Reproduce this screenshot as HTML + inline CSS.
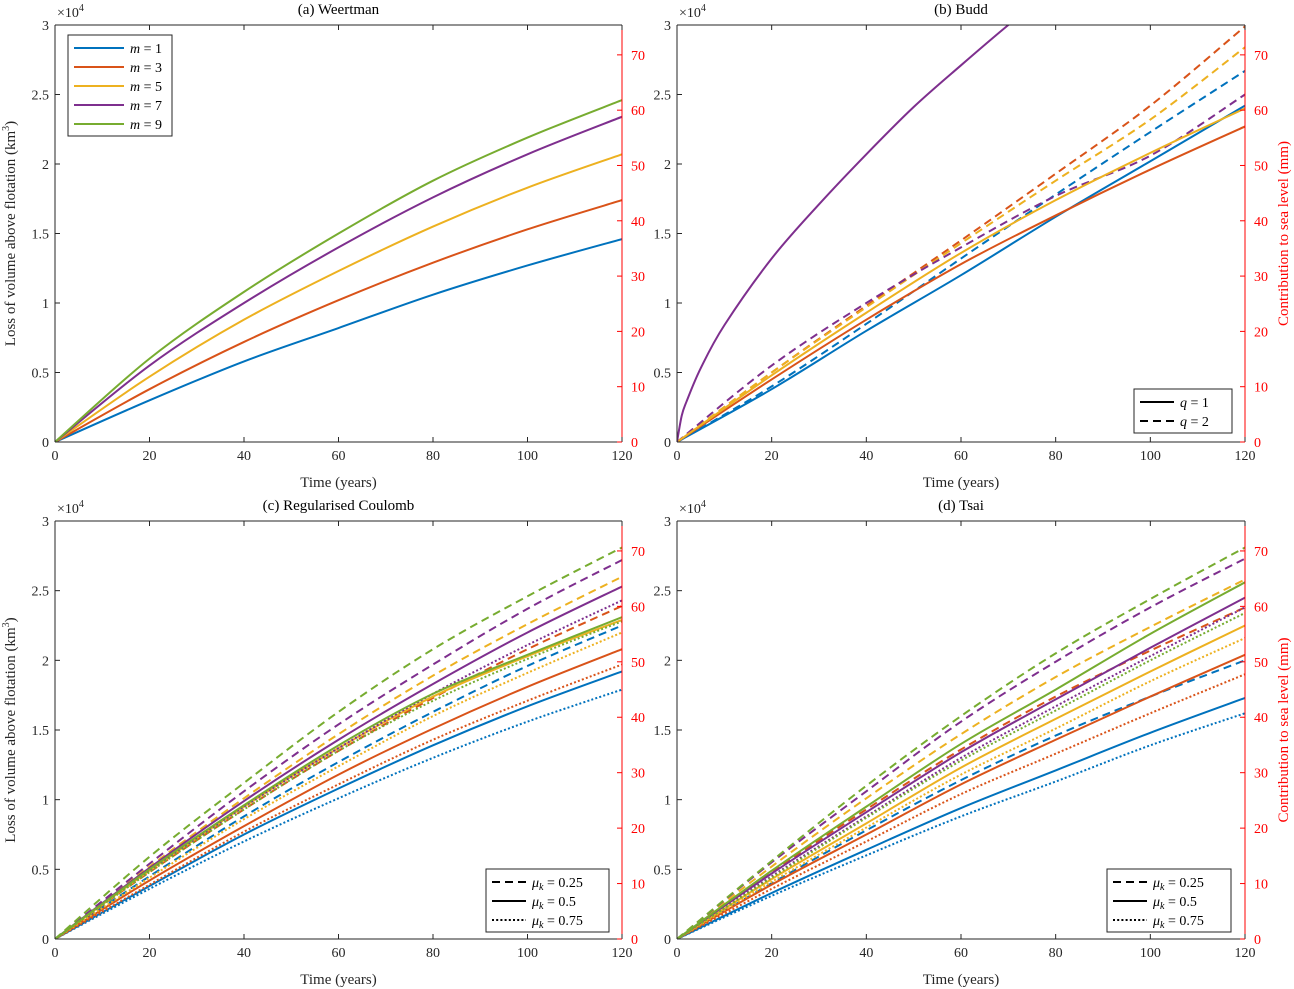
<!DOCTYPE html>
<html><head><meta charset="utf-8"><style>
html,body{margin:0;padding:0;background:#fff}
svg{display:block;font-family:"Liberation Serif",serif}
</style></head><body>
<svg id="fig" width="1294" height="989" viewBox="0 0 1294 989" xmlns="http://www.w3.org/2000/svg"></svg>
<script>
const C=['#0072BD','#D95319','#EDB120','#7E2F8E','#77AC30'];
const times=[0,20,40,60,80,100,120];
// Panel (a) Weertman, values in 1e4 km^3
const aM1=[0,.30,.58,.82,1.06,1.27,1.46];
const aM3=[0,.38,.72,1.02,1.29,1.53,1.74];
const aM5=[0,.47,.88,1.23,1.55,1.83,2.07];
const aM7=[0,.55,1.0,1.40,1.76,2.07,2.34];
const aM9=[0,.60,1.08,1.50,1.88,2.19,2.46];
// Panel (b) Budd
const bTimesPurple=[0,1,2,5,10,20,30,40,50,60,70,80];
const bQ1Purple=[0,.19,.29,.53,.84,1.32,1.71,2.07,2.41,2.71,3.0,3.27];
const bQ1Blue=[0,.38,.80,1.20,1.62,2.02,2.42];
const bQ1Orange=[0,.45,.88,1.28,1.63,1.96,2.27];
const bQ1Yellow=[0,.48,.93,1.36,1.74,2.08,2.40];
const bQ2Blue=[0,.40,.85,1.32,1.78,2.23,2.67];
const bQ2Orange=[0,.50,.98,1.45,1.93,2.42,2.99];
const bQ2Yellow=[0,.50,.97,1.43,1.88,2.32,2.84];
const bQ2Purple=[0,.55,1.0,1.40,1.77,2.06,2.50];
// Panel (c) Regularised Coulomb: [dashed 0.25, solid 0.5, dotted 0.75]
const cBlue=[[0,.45,.88,1.27,1.63,1.96,2.25],[0,.38,.75,1.08,1.39,1.67,1.92],[0,.36,.70,1.01,1.30,1.56,1.79]];
const cOrange=[[0,.48,.93,1.35,1.73,2.08,2.39],[0,.42,.81,1.18,1.51,1.81,2.08],[0,.39,.77,1.11,1.43,1.71,1.97]];
const cYellow=[[0,.52,1.01,1.47,1.89,2.26,2.60],[0,.49,.95,1.37,1.74,2.03,2.29],[0,.44,.86,1.24,1.60,1.91,2.20]];
const cPurple=[[0,.54,1.06,1.54,1.97,2.37,2.72],[0,.51,.99,1.43,1.83,2.20,2.53],[0,.49,.95,1.37,1.76,2.11,2.43]];
const cGreen=[[0,.59,1.12,1.63,2.08,2.46,2.81],[0,.50,.96,1.39,1.76,2.04,2.31],[0,.48,.93,1.35,1.71,2.01,2.28]];
// Panel (d) Tsai
const dBlue=[[0,.40,.78,1.14,1.46,1.74,2.0],[0,.33,.64,.94,1.21,1.48,1.73],[0,.31,.60,.88,1.13,1.39,1.62]];
const dOrange=[[0,.48,.93,1.36,1.74,2.07,2.38],[0,.39,.75,1.11,1.43,1.74,2.04],[0,.36,.70,1.04,1.33,1.62,1.90]];
const dYellow=[[0,.52,1.01,1.47,1.88,2.24,2.58],[0,.43,.83,1.23,1.58,1.92,2.25],[0,.41,.80,1.18,1.51,1.85,2.16]];
const dPurple=[[0,.55,1.06,1.56,1.99,2.38,2.73],[0,.47,.91,1.34,1.72,2.09,2.45],[0,.45,.88,1.30,1.67,2.03,2.38]];
const dGreen=[[0,.56,1.10,1.60,2.05,2.44,2.81],[0,.49,.95,1.40,1.79,2.19,2.56],[0,.44,.87,1.28,1.64,2.0,2.34]];
const yTicks=['0','0.5','1','1.5','2','2.5','3'];
const yTickVals=[0,.5,1,1.5,2,2.5,3];
const xTickVals=[0,20,40,60,80,100,120];
const mmTicks=[0,10,20,30,40,50,60,70];
const MM_MAX=75.4;

const svg=document.getElementById('fig');
const NS='http://www.w3.org/2000/svg';
function mk(tag,attrs,parent){const e=document.createElementNS(NS,tag);for(const k in attrs)e.setAttribute(k,attrs[k]);(parent||svg).appendChild(e);return e;}
function txt(s,x,y,attrs,parent){const e=mk('text',Object.assign({x:x,y:y},attrs||{}),parent);e.innerHTML=s;return e;}
const DASH={solid:'',dashed:'8,5',dotted:'2,2.2'};

function panel(id,L,T,R,B,title,showLeftLabel,showRightLabel){
  const W=R-L,H=B-T;
  const g=mk('g',{});
  
  
  const sx=t=>L+t/120*W, sy=v=>B-v/3*H, smm=m=>B-m/MM_MAX*H;
  const cp=mk('clipPath',{id:'clip'+id},g);mk('rect',{x:L,y:T,width:W,height:H},cp);
  const plot=mk('g',{'clip-path':'url(#clip'+id+')'},g);
  
  
  mk('line',{x1:L,y1:T,x2:R,y2:T,stroke:'#262626','stroke-width':1},g);
  mk('line',{x1:L,y1:B,x2:R,y2:B,stroke:'#262626','stroke-width':1},g);
  mk('line',{x1:L,y1:T,x2:L,y2:B,stroke:'#262626','stroke-width':1},g);
  mk('line',{x1:R,y1:T,x2:R,y2:B,stroke:'#ff0000','stroke-width':1},g);
  xTickVals.forEach(t=>{const x=sx(t);
    mk('line',{x1:x,y1:B,x2:x,y2:B-5,stroke:'#262626'},g);
    mk('line',{x1:x,y1:T,x2:x,y2:T+5,stroke:'#262626'},g);
    const e=txt(String(t),x,B+18,{'text-anchor':'middle','font-size':14,fill:'#262626'},g);
    
    
  });
  yTickVals.forEach((v,i)=>{const y=sy(v);
    mk('line',{x1:L,y1:y,x2:L+5,y2:y,stroke:'#262626'},g);
    const e=txt(yTicks[i],L-6,y+5,{'text-anchor':'end','font-size':14,fill:'#262626'},g);
    
    
  });
  mmTicks.forEach(m=>{const y=smm(m);
    mk('line',{x1:R,y1:y,x2:R-5,y2:y,stroke:'#ff0000'},g);
    const e=txt(String(m),R+9,y+5,{'font-size':14,fill:'#ff0000'},g);
    
    
  });
  const ex=txt('×10<tspan dy="-6" font-size="10">4</tspan>',L+2,T-8,{'font-size':14,fill:'#262626'},g);
  
  
  const ti=txt(title,(L+R)/2,T-11,{'text-anchor':'middle','font-size':15,fill:'#000'},g);
  
  
  const xl=txt('Time (years)',(L+R)/2,B+45,{'text-anchor':'middle','font-size':15,fill:'#262626'},g);
  
  
  if(showLeftLabel){
    const yl=txt('Loss of volume above flotation (km<tspan dy="-6" font-size="10">3</tspan><tspan dy="6">)</tspan>',0,0,{'text-anchor':'middle','font-size':15,fill:'#262626',transform:'translate(15,'+((T+B)/2)+') rotate(-90)'},g);
    
    
  }
  if(showRightLabel){
    const rl=txt('Contribution to sea level (mm)',0,0,{'text-anchor':'middle','font-size':15,fill:'#ff0000',transform:'translate('+(R+43)+','+((T+B)/2)+') rotate(-90)'},g);
    
    
  }
  function series(ts,vs,color,style,name){
    const p=ts.map((t,i)=>[sx(t),sy(vs[i])]);
    let d='M'+p[0][0]+','+p[0][1];
    for(let i=0;i<p.length-1;i++){
      const p0=p[Math.max(0,i-1)],p1=p[i],p2=p[i+1],p3=p[Math.min(p.length-1,i+2)];
      const c1=[p1[0]+(p2[0]-p0[0])/6,p1[1]+(p2[1]-p0[1])/6];
      const c2=[p2[0]-(p3[0]-p1[0])/6,p2[1]-(p3[1]-p1[1])/6];
      d+=' C'+c1[0]+','+c1[1]+' '+c2[0]+','+c2[1]+' '+p2[0]+','+p2[1];
    }
    const e=mk('path',{d:d,fill:'none',stroke:color,'stroke-width':2,'stroke-dasharray':DASH[style]},plot);
    
    
  }
  return {series,g};
}
function legend(parent,x,y,w,entries,lineLen){
  const lg=mk('g',{},parent);
  
  
  mk('rect',{x:x,y:y,width:w,height:entries.length*19+6,fill:'#fff',stroke:'#262626','stroke-width':1},lg);
  entries.forEach((en,i)=>{
    const yy=y+13+i*19;
    const le=mk('g',{},lg);
    
    
    mk('line',{x1:x+6,y1:yy,x2:x+6+lineLen,y2:yy,stroke:en.c,'stroke-width':2,'stroke-dasharray':DASH[en.s]},le);
    txt(en.t,x+12+lineLen,yy+5,{'font-size':14,fill:'#000'},le);
  });
}
const ITAL=s=>'<tspan font-style="italic">'+s+'</tspan>';
const pa=panel('a',55,25,622,442,'(a) Weertman',true,false);
[aM1,aM3,aM5,aM7,aM9].forEach((v,i)=>pa.series(times,v,C[i],'solid','line-m'+(2*i+1)));
legend(pa.g,68,35,104,[1,3,5,7,9].map((m,i)=>({c:C[i],s:'solid',t:ITAL('m')+' = '+m})),50);
const pb=panel('b',677,25,1245,442,'(b) Budd',false,true);
pb.series(times,bQ2Blue,C[0],'dashed','line-q2-blue');
pb.series(times,bQ2Orange,C[1],'dashed','line-q2-orange');
pb.series(times,bQ2Yellow,C[2],'dashed','line-q2-yellow');
pb.series(times,bQ2Purple,C[3],'dashed','line-q2-purple');
pb.series(times,bQ1Blue,C[0],'solid','line-q1-blue');
pb.series(times,bQ1Orange,C[1],'solid','line-q1-orange');
pb.series(times,bQ1Yellow,C[2],'solid','line-q1-yellow');
pb.series(bTimesPurple,bQ1Purple,C[3],'solid','line-q1-purple');
legend(pb.g,1134,389,98,[{c:'#000',s:'solid',t:ITAL('q')+' = 1'},{c:'#000',s:'dashed',t:ITAL('q')+' = 2'}],34);
const styles=['dashed','solid','dotted'];
const muLeg=[{c:'#000',s:'dashed',t:ITAL('μ<tspan font-size="10" dy="3">k</tspan>')+'<tspan dy="-3"> = 0.25</tspan>'},{c:'#000',s:'solid',t:ITAL('μ<tspan font-size="10" dy="3">k</tspan>')+'<tspan dy="-3"> = 0.5</tspan>'},{c:'#000',s:'dotted',t:ITAL('μ<tspan font-size="10" dy="3">k</tspan>')+'<tspan dy="-3"> = 0.75</tspan>'}];
const pc=panel('c',55,521,622,939,'(c) Regularised Coulomb',true,false);
[cBlue,cOrange,cYellow,cPurple,cGreen].forEach((grp,ci)=>grp.forEach((v,si)=>pc.series(times,v,C[ci],styles[si],'line-c-'+ci+'-'+styles[si])));
legend(pc.g,486,869,123,muLeg,34);
const pd=panel('d',677,521,1245,939,'(d) Tsai',false,true);
[dBlue,dOrange,dYellow,dPurple,dGreen].forEach((grp,ci)=>grp.forEach((v,si)=>pd.series(times,v,C[ci],styles[si],'line-d-'+ci+'-'+styles[si])));
legend(pd.g,1107,869,124,muLeg,34);
</script>
</body></html>
